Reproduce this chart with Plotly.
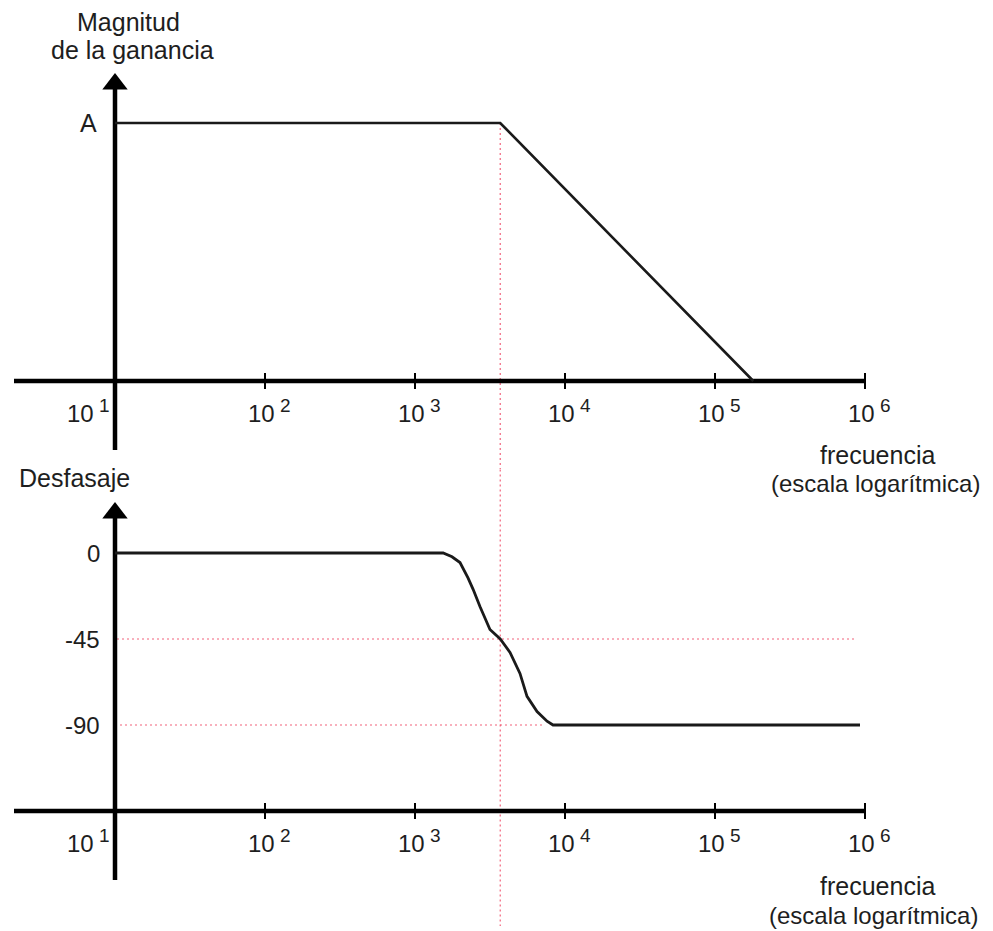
import numpy as np
import plotly.graph_objects as go

# page size and the page margin the browser puts around the figure
PAGE_W, PAGE_H = 993, 931
OFF = 8
W, H = PAGE_W - OFF, PAGE_H - OFF

# ---------------- data ----------------
decades = [1, 2, 3, 4, 5, 6]
tick_freqs = [10 ** d for d in decades]
tick_labels = ["10<sup><span style='font-size:19px'> %d</span></sup>" % d for d in decades]

f_corner = 3700
mag_freq = [10, 3700, 180000]
mag_vals = [1, 1, 0]          # in units of A

phase_freq = [10, 1540, 1765, 1995, 2256, 2440, 2710, 3160, 3700, 4300, 5010, 5580, 6510, 7590, 8320, 926000]
phase_vals = [0, 0, -2, -5, -13, -19, -28, -40, -45, -52, -63, -75, -83, -88, -90, -90]

phase_ticks = [0, -45, -90]
phase_tick_labels = ["0", "-45", "-90"]

# ---------------- layout calibration (page pixels) ----------------
X0_PX, PX_PER_DEC = 115, 150
xr = [1 - (X0_PX - OFF) / PX_PER_DEC, 1 + (W - (X0_PX - OFF)) / PX_PER_DEC]

TOP_ZERO_PX, TOP_A_PX = 381, 123
top_scale = TOP_ZERO_PX - TOP_A_PX
def ytop(py):
    return (TOP_ZERO_PX - py) / top_scale

BOT_ZERO_PX, BOT_PX_PER_DEG = 553, 86 / 45
def ybot(py):
    return (BOT_ZERO_PX - py) / BOT_PX_PER_DEG

split = 0.5
split_px = OFF + H * (1 - split)
yr_top = [ytop(split_px), ytop(OFF)]
yr_bot = [ybot(PAGE_H), ybot(split_px)]

FONT = "Liberation Sans, Arial, Helvetica, sans-serif"
TXT = "#1e1e1e"
RED = "rgba(240,70,100,0.85)"
AXW = 4.5

def fx(px):
    return 10 ** (1 + (px - X0_PX) / PX_PER_DEC)

f_left = fx(14)
f_right = tick_freqs[-1]
phase_axis_val = -135

fig = go.Figure()

def line(x, y, xa, ya, color="black", width=AXW, dash=None):
    fig.add_trace(go.Scatter(x=x, y=y, xaxis=xa, yaxis=ya, mode="lines",
                             line=dict(color=color, width=width, dash=dash),
                             hoverinfo="skip", showlegend=False))

def arrow(xa, ya, yv):
    fig.add_trace(go.Scatter(x=[10], y=[yv], xaxis=xa, yaxis=ya, mode="markers",
                             marker=dict(symbol="triangle-up", size=22, color="black",
                                         line=dict(width=0)),
                             hoverinfo="skip", showlegend=False))

# red guide lines
DOT = "2px,3px"
line([f_corner, f_corner], [mag_vals[0], yr_top[0]], "x", "y", RED, 1.2, DOT)
line([f_corner, f_corner], [yr_bot[1], ybot(926)], "x2", "y2", RED, 1.2, DOT)
line([fx(117), fx(855)], [-45, -45], "x2", "y2", RED, 1.2, DOT)
line([fx(120), fx(545)], [-90, -90], "x2", "y2", RED, 1.2, DOT)

# top axes
line([f_left, f_right], [0, 0], "x", "y")
line([10, 10], [ytop(450), ytop(86)], "x", "y")
tk = 8 / top_scale
tx, ty = [], []
for f in tick_freqs[1:]:
    tx += [f, f, None]; ty += [-tk, tk, None]
line(tx, ty, "x", "y", "black", 2)
arrow("x", "y", ytop(84))

# bottom axes
line([f_left, f_right], [phase_axis_val, phase_axis_val], "x2", "y2")
line([10, 10], [ybot(880), ybot(516)], "x2", "y2")
tk2 = 8 / BOT_PX_PER_DEG
tx, ty = [], []
for f in tick_freqs[1:]:
    tx += [f, f, None]; ty += [phase_axis_val - tk2, phase_axis_val + tk2, None]
line(tx, ty, "x2", "y2", "black", 2)
arrow("x2", "y2", ybot(513))

# curves
line(mag_freq, mag_vals, "x", "y", "#1a1a1a", 2.6)
line(phase_freq, phase_vals, "x2", "y2", "#1a1a1a", 2.8)

ann = []
def ptext(text, px, py, size=25):
    ann.append(dict(text=text, x=(px - OFF) / W, y=1 - (py - OFF) / H,
                    xref="paper", yref="paper", xanchor="center", yanchor="middle",
                    showarrow=False, font=dict(family=FONT, size=size, color=TXT)))

ptext("Magnitud", 128, 22)
ptext("de la ganancia", 133, 50)
ptext("A", 88, 123)
ptext("Desfasaje", 74, 478)
ptext("frecuencia", 877, 455)
ptext("(escala logarítmica)", 875, 483, 24)
ptext("frecuencia", 877, 886)
ptext("(escala logarítmica)", 873, 915, 24)

# frequency tick labels (both panels)
for f, lab in zip(tick_freqs, tick_labels):
    xs = -27 if f == tick_freqs[0] else 4
    for xa, ya, yv in (("x", "y", 0), ("x2", "y2", phase_axis_val)):
        ann.append(dict(text=lab, x=np.log10(f), y=yv, xref=xa, yref=ya,
                        xanchor="center", yanchor="middle", xshift=xs, yshift=-30,
                        showarrow=False, font=dict(family=FONT, size=24, color=TXT)))

# phase tick labels
for v, lab in zip(phase_ticks, phase_tick_labels):
    ann.append(dict(text=lab, x=1, y=v, xref="x2", yref="y2", xanchor="right",
                    yanchor="middle", xshift=-13, showarrow=False,
                    font=dict(family=FONT, size=24, color=TXT)))

hidden = dict(visible=False, showgrid=False, zeroline=False, fixedrange=True)
fig.update_layout(
    width=W, height=H, margin=dict(l=0, r=0, t=0, b=0),
    paper_bgcolor="white", plot_bgcolor="white",
    xaxis=dict(type="log", range=xr, domain=[0, 1], anchor="y", **hidden),
    yaxis=dict(range=yr_top, domain=[split, 1], anchor="x", **hidden),
    xaxis2=dict(type="log", range=xr, domain=[0, 1], anchor="y2", matches="x", **hidden),
    yaxis2=dict(range=yr_bot, domain=[0, split], anchor="x2", **hidden),
    annotations=ann, showlegend=False,
)

fig.write_html("out.html")
